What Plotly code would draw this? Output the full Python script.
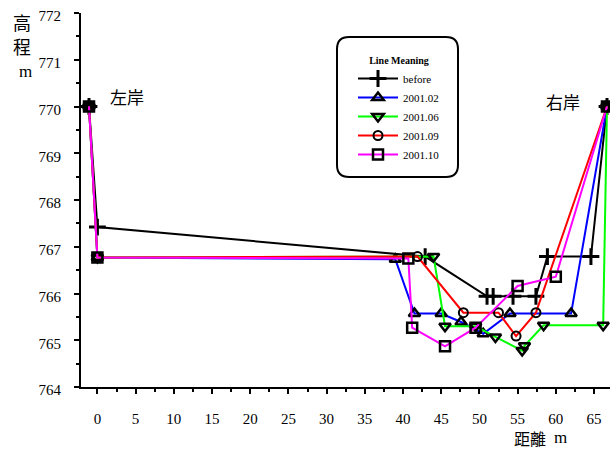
import plotly.graph_objects as go

# Cross-section survey: distance from left bank (m) vs. bed elevation (m)
x_before = [-1.1, 0, 42.9, 51.0, 51.8, 54.4, 57.4, 58.9, 64.6, 66.7]
y_before = [770.0, 767.42, 766.79, 765.94, 765.94, 765.94, 765.94, 766.79, 766.79, 770.0]

x_0102 = [-1.1, 0, 39.0, 41.5, 45.0, 47.6, 50.5, 54.0, 62.0, 66.7]
y_0102 = [770.0, 766.77, 766.73, 765.57, 765.57, 765.39, 765.14, 765.57, 765.57, 770.0]

x_0106 = [-1.1, 0, 44.0, 45.5, 49.5, 52.1, 55.6, 55.9, 58.4, 66.2, 66.7]
y_0106 = [770.0, 766.77, 766.79, 765.30, 765.30, 765.07, 764.78, 764.88, 765.32, 765.32, 770.0]

x_0109 = [-1.1, 0, 41.9, 47.9, 52.5, 54.8, 57.4, 66.7]
y_0109 = [770.0, 766.77, 766.79, 765.59, 765.59, 765.09, 765.59, 770.0]

x_0110 = [-1.1, 0, 40.7, 41.2, 45.5, 49.5, 55.0, 60.0, 66.7]
y_0110 = [770.0, 766.77, 766.75, 765.27, 764.87, 765.27, 766.16, 766.36, 770.0]

series_names = ["before", "2001.02", "2001.06", "2001.09", "2001.10"]
x_ticks = list(range(0, 70, 5))
y_ticks = list(range(764, 773))

W, H = 610, 452
ML, MR, MT, MB = 81, 0, 13, 65
PW, PH = W - ML - MR, H - MT - MB


def px(x):
    return (x - ML) / PW


def py(y):
    return (H - MB - y) / PH


SERIF = "'Liberation Serif', 'Times New Roman', serif"
CJK = "'Noto Sans CJK TC', 'Noto Sans CJK SC', sans-serif"

styles = [
    dict(color="#000000", symbol="cross-thin", size=12, lw=3),
    dict(color="#0000FF", symbol="triangle-up-open", size=10, lw=2.5),
    dict(color="#00FF00", symbol="triangle-down-open", size=10, lw=2.5),
    dict(color="#FF0000", symbol="circle-open", size=9, lw=2),
    dict(color="#FF00FF", symbol="square-open", size=10, lw=2.5),
]
data = [(x_before, y_before), (x_0102, y_0102), (x_0106, y_0106),
        (x_0109, y_0109), (x_0110, y_0110)]

fig = go.Figure()
for name, (xs, ys), st in zip(series_names, data, styles):
    fig.add_trace(go.Scatter(
        x=xs, y=ys, name=name, mode="lines+markers",
        line=dict(color=st["color"], width=2),
        marker=dict(symbol=st["symbol"], size=st["size"], color="black",
                    line=dict(color="black", width=st["lw"])),
        cliponaxis=False,
    ))

# rounded frame behind the legend
bx0, by0, bx1, by1, r = 337, 37, 458, 177, 12
rx, ry = r / PW, r / PH
X0, X1, Y0, Y1 = px(bx0), px(bx1), py(by1), py(by0)
path = (f"M {X0+rx},{Y1} L {X1-rx},{Y1} Q {X1},{Y1} {X1},{Y1-ry} "
        f"L {X1},{Y0+ry} Q {X1},{Y0} {X1-rx},{Y0} L {X0+rx},{Y0} "
        f"Q {X0},{Y0} {X0},{Y0+ry} L {X0},{Y1-ry} Q {X0},{Y1} {X0+rx},{Y1} Z")
fig.add_shape(type="path", path=path, xref="paper", yref="paper",
              line=dict(color="black", width=2), fillcolor="white", layer="below")

annos = [
    dict(text="高", x=px(22), y=py(22), font=dict(family=CJK, size=18)),
    dict(text="程", x=px(22), y=py(46), font=dict(family=CJK, size=18)),
    dict(text="m", x=px(25), y=py(72), font=dict(family=SERIF, size=17)),
    dict(text="左岸", x=px(127), y=py(96), font=dict(family=CJK, size=17)),
    dict(text="右岸", x=px(563), y=py(102), font=dict(family=CJK, size=17)),
    dict(text="距離", x=px(530), y=py(438), font=dict(family=CJK, size=16)),
    dict(text="m", x=px(560), y=py(438), font=dict(family=SERIF, size=17)),
]
for a in annos:
    fig.add_annotation(xref="paper", yref="paper", showarrow=False,
                       xanchor="center", yanchor="middle", **a)

fig.update_layout(
    template="none",
    width=W, height=H,
    margin=dict(l=ML, r=MR, t=MT, b=MB),
    paper_bgcolor="white", plot_bgcolor="white",
    font=dict(family=SERIF, color="black"),
    showlegend=True,
    legend=dict(
        x=px(353), y=py(51), xanchor="left", yanchor="top",
        bgcolor="rgba(0,0,0,0)", borderwidth=0,
        font=dict(family=SERIF, size=11),
        title=dict(text="<b>Line Meaning</b>", side="top center",
                   font=dict(family=SERIF, size=10)),
        itemwidth=40,
    ),
    xaxis=dict(
        range=[(ML - 97.4) / 7.64, (W - MR - 97.4) / 7.64],
        tickvals=x_ticks, ticktext=[str(v) for v in x_ticks],
        showgrid=False, zeroline=False, automargin=False,
        showline=True, linecolor="black", linewidth=2,
        ticks="outside", ticklen=5, tickwidth=2, tickcolor="black",
        minor=dict(dtick=2.5, tick0=0, ticks="outside", ticklen=3,
                   tickwidth=1.5, tickcolor="black", showgrid=False),
        tickfont=dict(family=SERIF, size=15),
        ticklabelstandoff=12,
    ),
    yaxis=dict(
        range=[764, 772],
        tickvals=y_ticks, ticktext=[str(v) for v in y_ticks],
        showgrid=False, zeroline=False, automargin=False,
        showline=True, linecolor="black", linewidth=2,
        ticks="outside", ticklen=5, tickwidth=2, tickcolor="black",
        minor=dict(dtick=0.5, tick0=764, ticks="outside", ticklen=3,
                   tickwidth=1.5, tickcolor="black", showgrid=False),
        tickfont=dict(family=SERIF, size=15),
        ticklabelstandoff=10,
        ticklabelshift=3,
    ),
)

fig.write_html("out.html")
